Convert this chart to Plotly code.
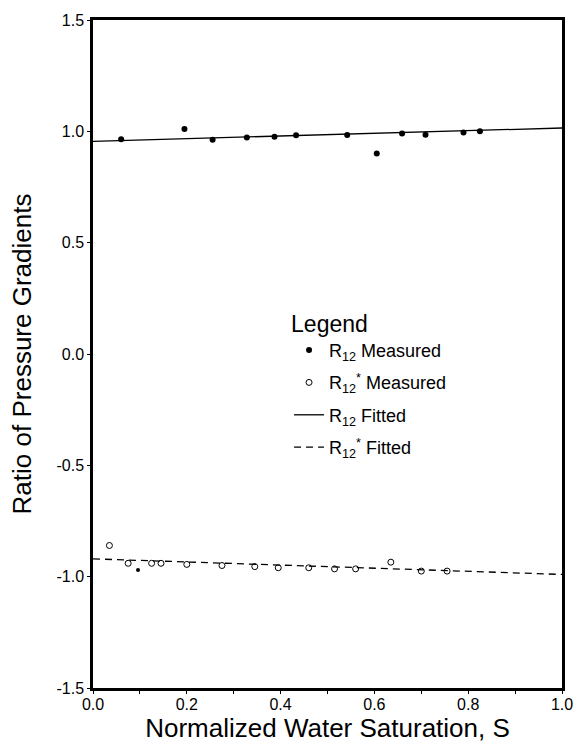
import plotly.graph_objects as go

# ---- data ----
r12_meas_x = [0.06, 0.195, 0.255, 0.328, 0.387, 0.433, 0.542, 0.605, 0.659, 0.709, 0.79, 0.825]
r12_meas_y = [0.965, 1.01, 0.962, 0.972, 0.976, 0.982, 0.984, 0.90, 0.99, 0.985, 0.995, 1.0]

r12s_meas_x = [0.035, 0.075, 0.125, 0.145, 0.20, 0.275, 0.345, 0.395, 0.46, 0.515, 0.56, 0.635, 0.70, 0.755]
r12s_meas_y = [-0.86, -0.94, -0.94, -0.94, -0.945, -0.95, -0.955, -0.96, -0.96, -0.965, -0.965, -0.935, -0.975, -0.975]

stray_x = [0.096]
stray_y = [-0.97]

fit_x = [0.0, 1.0]
r12_fit_y = [0.955, 1.015]
r12s_fit_y = [-0.92, -0.99]

x_ticks = [0.0, 0.2, 0.4, 0.6, 0.8, 1.0]
y_ticks = [-1.5, -1.0, -0.5, 0.0, 0.5, 1.0, 1.5]

FONT = "Liberation Sans, Arial, sans-serif"

fig = go.Figure()
fig.add_trace(go.Scatter(x=r12_meas_x, y=r12_meas_y, mode="markers",
                         name="R<sub>12</sub> Measured", legendgroup="a",
                         marker=dict(color="black", size=6)))
fig.add_trace(go.Scatter(x=r12s_meas_x, y=r12s_meas_y, mode="markers",
                         name="R<sub>12</sub><sup>*</sup> Measured", legendgroup="b",
                         marker=dict(symbol="circle-open", color="black", size=6, line=dict(width=1))))
fig.add_trace(go.Scatter(x=fit_x, y=r12_fit_y, mode="lines",
                         name="R<sub>12</sub> Fitted", legendgroup="c",
                         line=dict(color="black", width=1.3)))
fig.add_trace(go.Scatter(x=fit_x, y=r12s_fit_y, mode="lines",
                         name="R<sub>12</sub><sup>*</sup> Fitted", legendgroup="d",
                         line=dict(color="black", width=1.3, dash="7px,5px")))
fig.add_trace(go.Scatter(x=stray_x, y=stray_y, mode="markers", showlegend=False,
                         marker=dict(color="black", size=4)))

fig.update_layout(
    width=585, height=750,
    margin=dict(l=93, r=14, t=15, b=62),
    paper_bgcolor="white", plot_bgcolor="white",
    font=dict(family=FONT, color="black", size=15),
    legend=dict(
        title=dict(text="Legend", font=dict(size=23)),
        x=0.418, y=0.578, xanchor="left", yanchor="top",
        font=dict(size=18), bgcolor="rgba(0,0,0,0)",
        itemwidth=30, tracegroupgap=6,
    ),
    xaxis=dict(
        range=[0, 1.0], tickvals=x_ticks, ticktext=[f"{v:.1f}" for v in x_ticks],
        showgrid=False, zeroline=False,
        showline=True, mirror=True, linecolor="black", linewidth=2.5,
        ticks="outside", ticklen=3, tickwidth=1, tickcolor="black",
        minor=dict(dtick=0.1, ticks="outside", ticklen=3, tickcolor="black"),
        tickfont=dict(size=16), ticklabelstandoff=-3,
        title=dict(text="Normalized Water Saturation, S", font=dict(size=26), standoff=2),
    ),
    yaxis=dict(
        range=[-1.5, 1.5], tickvals=y_ticks, ticktext=[f"{v:.1f}" for v in y_ticks],
        showgrid=False, zeroline=False,
        showline=True, mirror=True, linecolor="black", linewidth=2.5,
        ticks="outside", ticklen=3, tickwidth=1, tickcolor="black",
        tickfont=dict(size=16),
        title=dict(text="Ratio of Pressure Gradients", font=dict(size=26), standoff=18),
    ),
)

fig.write_html("out.html")
